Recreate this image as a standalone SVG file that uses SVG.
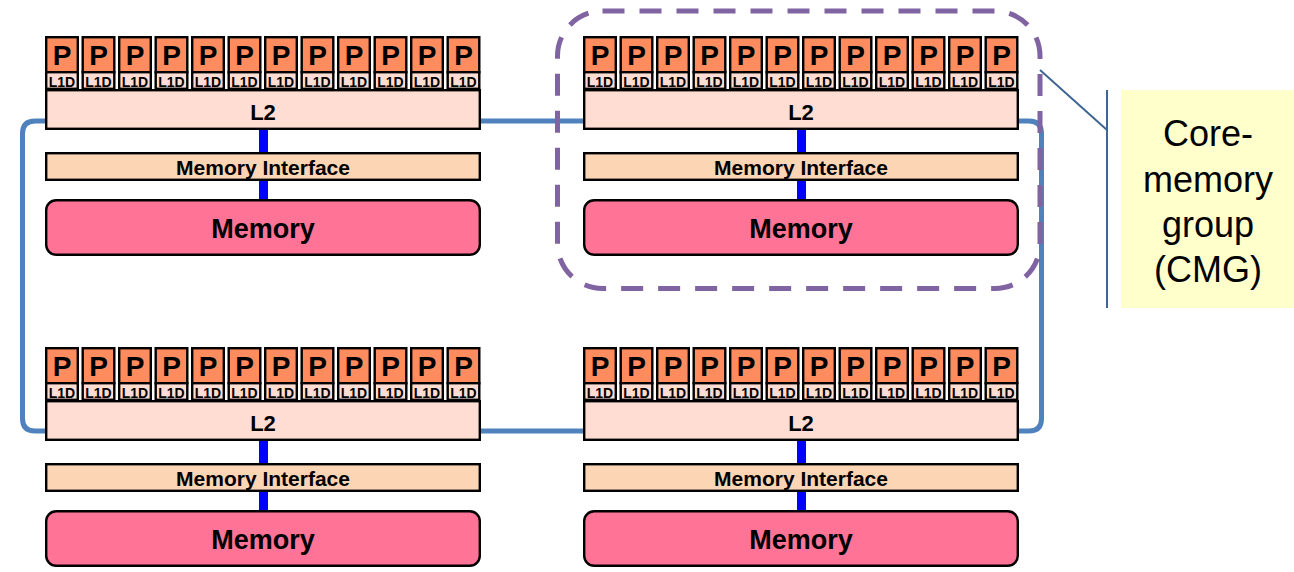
<svg xmlns="http://www.w3.org/2000/svg" xmlns:xlink="http://www.w3.org/1999/xlink" width="1294" height="572" viewBox="0 0 1294 572">
<style>
.bd{stroke:#000;stroke-width:2.4}
.p{fill:#FF8C5E}
.l1{fill:#FFDDD3}
.mi{fill:#FCD5B5}
.mem{fill:#FF7396}
.bus{fill:#0000FF}
text{font-family:"Liberation Sans",Arial,sans-serif;font-weight:bold;text-anchor:middle;fill:#000}
.tp{font-size:28px}
.tl1{font-size:14px}
.tl2{font-size:22px}
.tmi{font-size:21px}
.tmem{font-size:27px}
.ring{fill:none;stroke:#4F81BD;stroke-width:5}
.call{fill:none;stroke:#3F6592;stroke-width:2}
.ctext{font-weight:normal;font-size:36px}
</style>
<defs>
<g id="core">
<rect class="p bd" x="1.2" y="1.2" width="31.6" height="35"/>
<rect class="l1 bd" x="1.2" y="36.2" width="31.6" height="16.6"/>
<text class="tp" x="17" y="29">P</text>
<text class="tl1" x="17" y="50.5">L1D</text>
</g>
<g id="cmg">
<rect class="bus" x="259" y="128" width="9" height="73"/>
<rect class="l1 bd" x="46.2" y="90.2" width="433.6" height="38.6"/>
<text class="tl2" x="263" y="120">L2</text>
<rect class="mi bd" x="46.2" y="153.2" width="433.6" height="26.6"/>
<text class="tmi" x="263" y="175">Memory Interface</text>
<rect class="mem bd" x="46.2" y="200.2" width="433.6" height="54.6" rx="10"/>
<text class="tmem" x="263" y="238">Memory</text>
<use xlink:href="#core" x="45" y="36"/>
<use xlink:href="#core" x="81.5" y="36"/>
<use xlink:href="#core" x="118" y="36"/>
<use xlink:href="#core" x="154.5" y="36"/>
<use xlink:href="#core" x="191" y="36"/>
<use xlink:href="#core" x="227.5" y="36"/>
<use xlink:href="#core" x="264" y="36"/>
<use xlink:href="#core" x="300.5" y="36"/>
<use xlink:href="#core" x="337" y="36"/>
<use xlink:href="#core" x="373.5" y="36"/>
<use xlink:href="#core" x="410" y="36"/>
<use xlink:href="#core" x="446.5" y="36"/>
</g>
</defs>
<rect x="0" y="0" width="1294" height="572" fill="#fff"/>
<g id="connectors">
<path class="ring" d="M481 121 H583"/>
<path class="ring" d="M481 431 H583"/>
<path class="ring" d="M46 121 H35 Q22.5 121 22.5 133.5 V418.5 Q22.5 431 35 431 H46"/>
<path class="ring" d="M1017 121 H1029 Q1041.5 121 1041.5 133.5 V418.5 Q1041.5 431 1029 431 H1017"/>
</g>
<g id="cmg-top-left"><use xlink:href="#cmg"/></g>
<g id="cmg-top-right"><use xlink:href="#cmg" transform="translate(538,0)"/></g>
<g id="cmg-bottom-left"><use xlink:href="#cmg" transform="translate(0,311)"/></g>
<g id="cmg-bottom-right"><use xlink:href="#cmg" transform="translate(538,311)"/></g>
<g id="cmg-outline">
<rect x="557.5" y="11" width="482.5" height="277.5" rx="45" fill="none" stroke="#8064A2" stroke-width="5" stroke-dasharray="22 15"/>
</g>
<g id="callout">
<path class="call" d="M1040 70 L1107 130"/>
<path class="call" d="M1107 90 V308"/>
<rect x="1121" y="90" width="173" height="218" fill="#FFFFCC"/>
<text class="ctext" x="1208" y="146">Core-</text>
<text class="ctext" x="1208" y="192">memory</text>
<text class="ctext" x="1208" y="237">group</text>
<text class="ctext" x="1208" y="282">(CMG)</text>
</g>
</svg>
